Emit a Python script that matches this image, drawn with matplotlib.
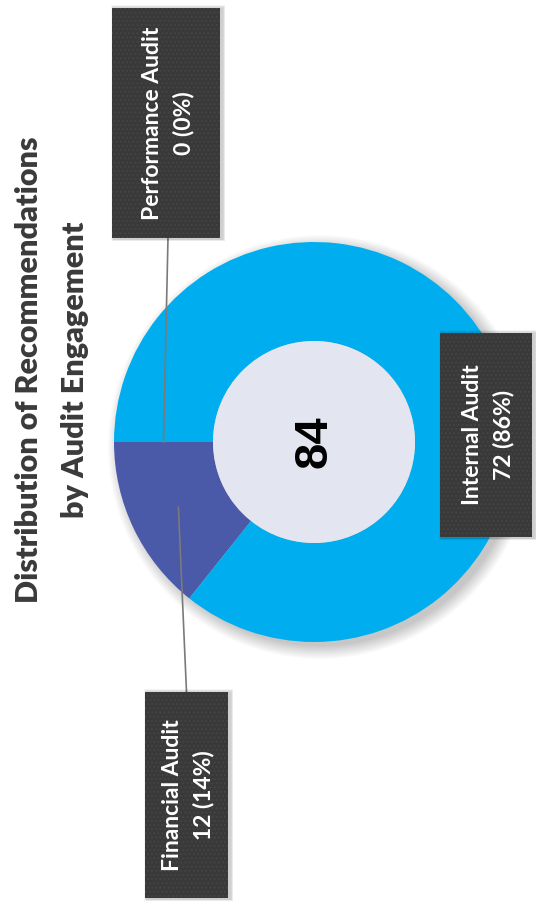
import numpy as np
import matplotlib
matplotlib.use('Agg')
from matplotlib import pyplot as plt
from matplotlib.patches import Circle, Rectangle


# Chart data
categories = ['Internal Audit', 'Financial Audit', 'Performance Audit']
values = [72, 12, 0]
colors = ['#00AEEF', '#4A59A8', '#4A59A8']
total = sum(values)
title = 'Distribution of Recommendations\nby Audit Engagement'

# Layout (figure pixels, y pointing up) - the whole chart is turned on its side
W, H = 536, 911
center = (314, 469)
r_out, r_in = 200, 101
boxes = {
    'Internal Audit': (440, 374, 92, 204),
    'Financial Audit': (145, 13, 83, 206),
    'Performance Audit': (112, 673, 108, 230),
}

fig = plt.figure(figsize=(W / 100, H / 100), dpi=100)
ax = fig.add_axes([0, 0, 1, 1])

# soft drop shadow under the donut
for k in range(14):
    ax.add_patch(Circle((center[0] + 6, center[1] - 5), r_out + 12 - k,
                        color='black', alpha=0.014, lw=0, zorder=0))

# donut: Financial first so it sits just below the 180 degree line
order = [1, 0, 2]
wedges, _ = ax.pie([values[i] for i in order],
                   colors=[colors[i] for i in order],
                   startangle=180, counterclock=True,
                   radius=r_out, center=center,
                   wedgeprops=dict(width=r_out - r_in, linewidth=0),
                   frame=True)
ax.add_patch(Circle(center, r_in, color='#E3E5F1', lw=0, zorder=3))
ax.text(center[0], center[1], str(total), rotation=90, ha='center', va='center',
        fontsize=34, fontweight='bold', family='Liberation Sans', color='black', zorder=4)

# label boxes with leader lines from the middle of the ring
angles = {}
start = 180
for i in order:
    sweep = values[i] / total * 360
    angles[categories[i]] = np.deg2rad(start + sweep / 2)
    start += sweep

r_mid = (r_out + r_in) / 2
for cat, v in zip(categories, values):
    bx, by, bw, bh = boxes[cat]
    a = angles[cat]
    sx, sy = center[0] + r_mid * np.cos(a), center[1] + r_mid * np.sin(a)
    if cat != 'Internal Audit':
        ey = by + bh if sy > by + bh else by
        ax.plot([sx, bx + bw / 2 + (2 if ey == by else 0)], [sy, ey],
                color='#7a7a7a', lw=1.2, zorder=5)
    # box shadow
    for k in range(5):
        ax.add_patch(Rectangle((bx - 1 + k * 0.6, by - 3 + k * 0.3), bw + 6 - k, bh + 6 - k,
                               color='black', alpha=0.04, lw=0, zorder=6))
    ax.add_patch(Rectangle((bx, by), bw, bh, facecolor='#393939', edgecolor='#444444',
                           hatch='....', lw=0, zorder=7))
    pct = v / total * 100
    ax.text(bx + bw / 2 + 2, by + bh / 2, f'{cat}\n{v} ({pct:.0f}%)', rotation=90,
            ha='center', va='center', multialignment='center', color='white',
            fontsize=16.5, fontweight='bold', family='Lato', linespacing=1.55, zorder=8)

ax.text(52, 541, title, rotation=90, ha='center', va='center', multialignment='center',
        fontsize=22, fontweight='heavy', family='Lato', color='#3a3a3a', linespacing=1.8)

ax.set_xlim(0, W)
ax.set_ylim(0, H)
ax.set_aspect('auto')
ax.axis('off')

fig.savefig('out.png', dpi=100, facecolor='white')
